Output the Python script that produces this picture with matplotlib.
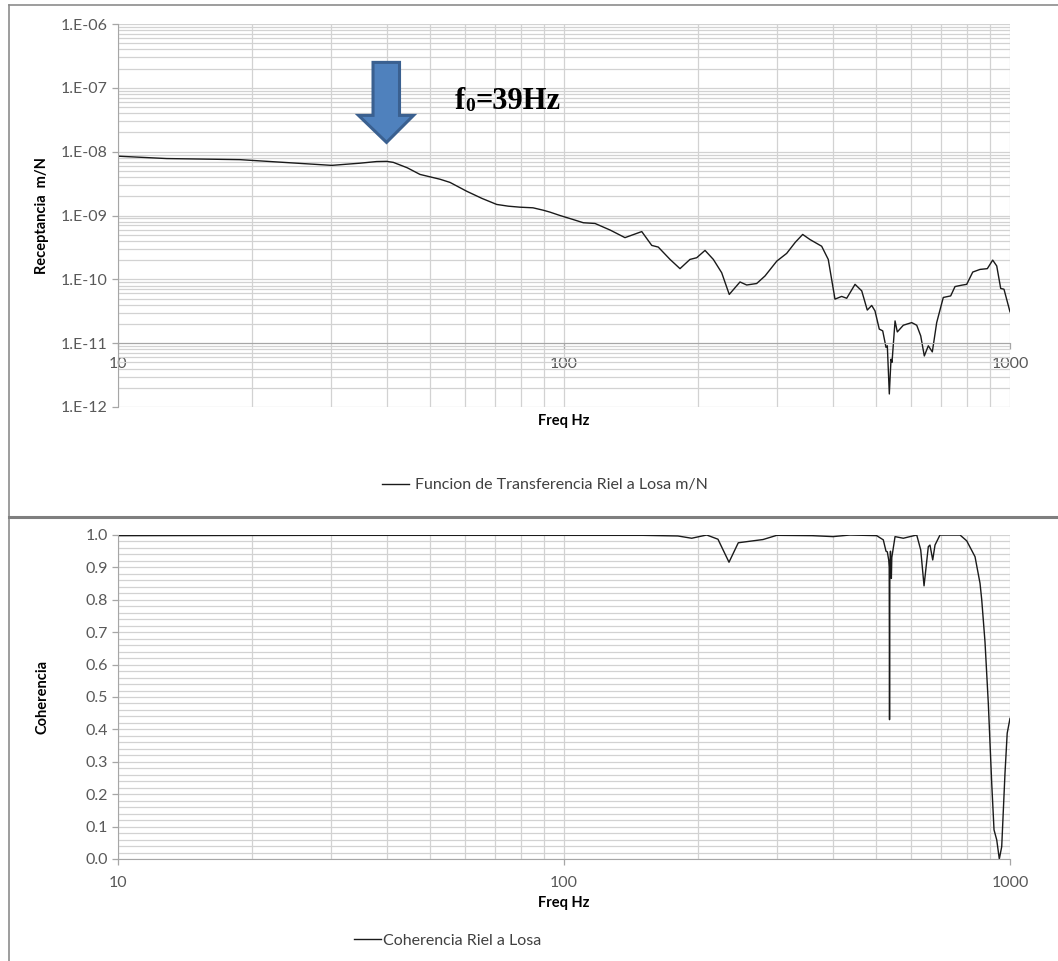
import numpy as np
import matplotlib
matplotlib.use("Agg")
import matplotlib.pyplot as plt
from matplotlib.ticker import FixedLocator, FuncFormatter, MultipleLocator, NullFormatter, LogLocator
from matplotlib.patches import Polygon
from matplotlib.lines import Line2D
from matplotlib.transforms import Affine2D, ScaledTranslation

plt.rcParams["font.family"] = ["Lato", "DejaVu Sans"]

# --- Funcion de transferencia riel a losa (receptancia, m/N) ---
freq_h = [10.0, 12.86, 18.77, 23.48, 27.0, 30.14, 34.88, 38.0, 40.03, 41.42, 44.5, 47.55, 52.72,
          55.51, 60.5, 65.5, 70.65, 75.0, 79.66, 85.2, 89.85, 93.0, 97.95, 104.0, 110.5, 117.4,
          127.0, 137.0, 149.4, 157.3, 162.7, 172.9, 182.0, 191.6, 198.4, 207.1, 216.2,
          225.7, 234.7, 248.1, 256.8, 270.4, 282.3, 300.0, 315.7, 330.0, 342.9, 356.1,
          378.2, 391.3, 405.1, 419.4, 430.4, 449.3, 465.1, 478.6, 489.7, 498.1,
          509.2, 518.3, 527.2, 530.8, 536.3, 541.0, 543.8, 552.4, 558.9, 576.5,
          602.0, 617.8, 630.7, 642.5, 655.9, 669.6, 684.9, 708.6, 736.2, 752.8,
          779.3, 799.7, 825.0, 856.6, 889.5, 914.6, 933.8, 953.1, 969.4, 1000.0]
recept = [8.5e-9, 7.8e-9, 7.5e-9, 6.8e-9, 6.4e-9, 6.1e-9, 6.6e-9, 7.0e-9, 7.05e-9, 6.8e-9, 5.6e-9, 4.4e-9, 3.7e-9,
          3.3e-9, 2.4e-9, 1.85e-9, 1.49e-9, 1.4e-9, 1.35e-9, 1.32e-9, 1.21e-9, 1.13e-9, 1.0e-9, 8.8e-10, 7.7e-10, 7.5e-10,
          5.9e-10, 4.5e-10, 5.6e-10, 3.4e-10, 3.2e-10, 2.05e-10, 1.47e-10, 2.05e-10, 2.18e-10, 2.84e-10, 2.05e-10,
          1.27e-10, 5.8e-11, 9.1e-11, 8.15e-11, 8.6e-11, 1.13e-10, 1.93e-10, 2.55e-10, 3.8e-10, 5.05e-10, 4.2e-10,
          3.3e-10, 2.05e-10, 4.9e-11, 5.4e-11, 5.05e-11, 8.35e-11, 6.6e-11, 3.3e-11, 3.9e-11, 3.2e-11,
          1.66e-11, 1.56e-11, 8.6e-12, 9.1e-12, 1.6e-12, 5.6e-12, 5.0e-12, 2.23e-11, 1.5e-11, 1.91e-11,
          2.1e-11, 1.91e-11, 1.3e-11, 6.3e-12, 9.1e-12, 7.3e-12, 2.1e-11, 5.2e-11, 5.5e-11, 7.7e-11,
          8.1e-11, 8.35e-11, 1.3e-10, 1.43e-10, 1.47e-10, 2.0e-10, 1.62e-10, 7.2e-11, 7.0e-11, 3.1e-11]

# --- Coherencia riel a losa ---
freq_c = [10.0, 30.0, 60.0, 100.0, 150.0, 180.0, 193.3, 208.9, 221.4, 234.4,
          245.9, 265.3, 279.4, 300.0, 360.0, 401.0, 437.8, 502.4, 519.9, 527.2,
          530.8, 534.6, 536.0, 536.9, 537.8, 539.5, 542.0, 543.2, 552.4, 576.5,
          617.8, 630.7, 641.6, 655.9, 661.6, 671.0, 679.0, 696.6, 772.6, 799.7,
          834.8, 856.6, 864.2, 878.9, 894.1, 909.9, 920.8, 933.8, 946.3, 958.1,
          974.5, 985.6, 1000.0]
coher = [0.998, 0.999, 0.999, 0.999, 0.999, 0.997, 0.99, 1.0, 0.987, 0.916,
         0.976, 0.982, 0.986, 0.999, 0.998, 0.995, 1.0, 0.998, 0.985, 0.95,
         0.948, 0.923, 0.90, 0.43, 0.90, 0.95, 0.866, 0.93, 0.995, 0.99,
         1.0, 0.954, 0.843, 0.964, 0.969, 0.923, 0.969, 1.0, 1.0, 0.982,
         0.933, 0.851, 0.80, 0.67, 0.48, 0.234, 0.09, 0.059, 0.0, 0.038,
         0.265, 0.388, 0.434]

f0 = 40.0          # frecuencia de la flecha
f0_label = "=39Hz"

GRID = "#D2D2D2"
AXIS = "#A6A6A6"
TICKTXT = "#595959"
FONT = "Lato"
FS = 11.5

W, H = 1058, 961
fig = plt.figure(figsize=(W / 100, H / 100), dpi=100)
fig.patch.set_facecolor("white")


def px(left, top, right, bottom):
    return [left / W, 1 - bottom / H, (right - left) / W, (bottom - top) / H]


def style_axes(ax):
    ax.set_facecolor("white")
    for s in ax.spines.values():
        s.set_visible(False)
    ax.spines["left"].set_visible(True)
    ax.spines["left"].set_color(AXIS)
    ax.spines["bottom"].set_visible(True)
    ax.spines["bottom"].set_color(AXIS)
    ax.grid(True, which="both", color=GRID, linewidth=0.9)
    ax.set_axisbelow(True)
    ax.tick_params(which="major", direction="out", length=4, color=AXIS,
                   labelcolor=TICKTXT, labelsize=FS, width=0.9)
    ax.tick_params(which="minor", length=0)
    ax.set_xscale("log")
    ax.set_xlim(10, 1000)
    ax.xaxis.set_major_locator(FixedLocator([10, 100, 1000]))
    ax.xaxis.set_major_formatter(FuncFormatter(lambda v, p: f"{v:g}"))
    ax.xaxis.set_minor_locator(LogLocator(base=10, subs=np.arange(2, 10)))
    ax.xaxis.set_minor_formatter(NullFormatter())


# ---------------- receptancia ----------------
ax1 = fig.add_axes(px(118, 24, 1010, 407))
style_axes(ax1)
ax1.set_yscale("log")
ax1.set_ylim(1e-12, 1e-6)
ax1.yaxis.set_major_locator(LogLocator(base=10, numticks=10))
ax1.yaxis.set_minor_locator(LogLocator(base=10, subs=np.arange(2, 10), numticks=20))
ax1.yaxis.set_minor_formatter(NullFormatter())
ax1.yaxis.set_major_formatter(FuncFormatter(lambda v, p: f"1.E-{int(round(-np.log10(v))):02d}"))
ax1.spines["bottom"].set_position(("data", 1e-11))
ax1.tick_params(axis="x", pad=6)
ax1.plot(freq_h, recept, color="#1A1A1A", linewidth=1.0,
         label="Funcion de Transferencia Riel a Losa m/N")

ax1.set_xlabel("Freq Hz", fontsize=10.5, fontweight="bold")
ax1.xaxis.set_label_coords(0.5, -0.037)
ax1.xaxis.label.set_va("center")
ax1.set_ylabel("Receptancia  m/N", fontsize=10.5, fontweight="bold")
ax1.yaxis.set_label_coords(-0.085, 0.5)
ax1.yaxis.label.set_va("center")

# flecha azul sobre la resonancia
y_tip = 10 ** (-6 - (142.7 - 24) / 64)
arrow_pts = [(0, 0), (-28, 27), (-13.5, 27), (-13.5, 80), (13, 80), (13, 27), (27, 27)]
arrow_tr = Affine2D() + ScaledTranslation(f0, y_tip, ax1.transData)
ax1.add_patch(Polygon(arrow_pts, closed=True, transform=arrow_tr, facecolor="#4F81BD",
                      edgecolor="#3A6090", linewidth=2.2, clip_on=False, zorder=5))

# etiqueta f0 (f, subindice 0 y el valor)
serif = dict(family="Liberation Serif", fontweight="bold", color="black", zorder=6)
t_f = ax1.text(0.378, 0.778, "f", transform=ax1.transAxes, fontsize=22,
               va="baseline", ha="left", **serif)
t_0 = ax1.annotate("0", xy=(1.0, 0.0), xycoords=t_f, xytext=(0, 3.5), textcoords="offset points",
                   fontsize=14, va="baseline", ha="left", **serif)
ax1.annotate(f0_label, xy=(1.0, 0.0), xycoords=(t_0, t_f), xytext=(0, 0),
             textcoords="offset points", fontsize=22, va="bottom", ha="left", **serif)

leg1 = fig.legend(handles=ax1.get_lines(), loc="center", bbox_to_anchor=(0.515, 1 - 485 / H),
                  frameon=False, prop={"family": FONT, "size": FS}, handlelength=1.7,
                  handletextpad=0.4)
for t in leg1.get_texts():
    t.set_color("#404040")

# ---------------- coherencia ----------------
ax2 = fig.add_axes(px(118, 535, 1010, 859))
style_axes(ax2)
ax2.set_ylim(0, 1.0)
ax2.yaxis.set_major_locator(MultipleLocator(0.1))
ax2.yaxis.set_minor_locator(MultipleLocator(0.02))
ax2.yaxis.set_major_formatter(FuncFormatter(lambda v, p: f"{v:.1f}"))
ax2.plot(freq_c, coher, color="#1A1A1A", linewidth=1.0, label="Coherencia Riel a Losa")
ax2.tick_params(axis="x", pad=8)

ax2.set_xlabel("Freq Hz", fontsize=10.5, fontweight="bold")
ax2.xaxis.set_label_coords(0.5, -0.135)
ax2.xaxis.label.set_va("center")
ax2.set_ylabel("Coherencia", fontsize=10.5, fontweight="bold")
ax2.yaxis.set_label_coords(-0.085, 0.5)
ax2.yaxis.label.set_va("center")

leg2 = fig.legend(handles=ax2.get_lines(), loc="center", bbox_to_anchor=(0.423, 1 - 941 / H),
                  frameon=False, prop={"family": FONT, "size": FS}, handlelength=1.7,
                  handletextpad=0.15)
for t in leg2.get_texts():
    t.set_color("#404040")

# marcos de los dos graficos
fig.add_artist(Line2D([9 / W, 1], [1 - 5 / H, 1 - 5 / H], color="#8C8C8C", linewidth=1.2))
fig.add_artist(Line2D([9 / W, 9 / W], [1 - 5 / H, 0], color="#8C8C8C", linewidth=1.2))
fig.add_artist(Line2D([9 / W, 1], [1 - 517 / H, 1 - 517 / H], color="#7F7F7F", linewidth=2.2))

fig.savefig("out.png", dpi=100, facecolor="white")
